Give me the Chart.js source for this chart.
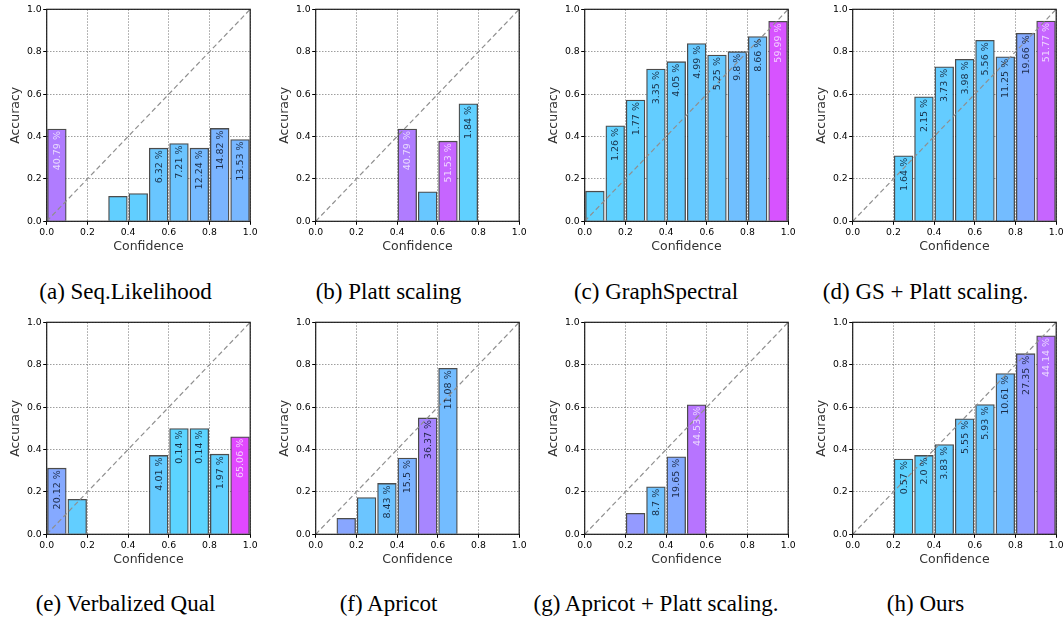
<!DOCTYPE html>
<html><head><meta charset="utf-8">
<script src="https://cdn.jsdelivr.net/npm/chart.js@4"></script>
<style>
body{margin:0;background:#fff;width:1063px;height:620px;position:relative;overflow:hidden}
.p{position:absolute}
.cap{position:absolute;font-family:"Liberation Serif","Times New Roman",serif;font-size:23px;line-height:23px;color:#000;white-space:nowrap;transform:translateX(-50%)}
</style></head><body>
<script>
// bin centers (category axis, hidden) and tick labels of the confidence axis
const binLabels = ['0.05','0.15','0.25','0.35','0.45','0.55','0.65','0.75','0.85','0.95'];
const tickValues = [0.0, 0.2, 0.4, 0.6, 0.8, 1.0];
const captions = ['(a) Seq.Likelihood','(b) Platt scaling','(c) GraphSpectral','(d) GS + Platt scaling.',
                  '(e) Verbalized Qual','(f) Apricot','(g) Apricot + Platt scaling.','(h) Ours'];

// accuracy per bin (null = empty bin)
const accA = [0.435,null,null,0.118,0.131,0.345,0.367,0.345,0.438,0.386];
const accB = [null,null,null,null,0.435,0.139,0.378,0.554,null,null];
const accC = [0.142,0.450,0.572,0.718,0.753,0.838,0.784,0.800,0.871,0.943];
const accD = [null,null,0.309,0.587,0.729,0.764,0.854,0.776,0.887,0.945];
const accE = [0.312,0.165,null,null,null,0.372,0.499,0.499,0.378,0.460];
const accF = [null,0.075,0.173,0.240,0.360,0.549,0.783,null,null,null];
const accG = [null,null,0.099,0.224,0.366,0.611,null,null,null,null];
const accH = [null,null,0.355,0.372,0.423,0.545,0.612,0.758,0.852,0.936];

// share of samples per bin, in percent
const pctA = [40.79,null,null,2.5,2.59,6.32,7.21,12.24,14.82,13.53];
const pctB = [null,null,null,null,40.79,5.84,51.53,1.84,null,null];
const pctC = [0.88,1.26,1.77,3.35,4.05,4.99,5.25,9.8,8.66,59.99];
const pctD = [null,null,1.64,2.15,3.73,3.98,5.56,11.25,19.66,51.77];
const pctE = [20.12,3.0,null,null,null,4.01,0.14,0.14,1.97,65.06];
const pctF = [null,21.5,7.12,8.43,15.5,36.37,11.08,null,null,null];
const pctG = [null,null,27.12,8.7,19.65,44.53,null,null,null,null];
const pctH = [null,null,0.57,2.0,3.83,5.55,5.93,10.61,27.35,44.14];

const accs = [accA,accB,accC,accD,accE,accF,accG,accH];
const pcts = [pctA,pctB,pctC,pctD,pctE,pctF,pctG,pctH];

// ---- layout / style ----
const panelX = [0, 269, 537.6, 805.6];
const panelY = [0, 313.4];
const capX = [125.5, 388.5, 656, 925.5];
const capTop = [280, 592];
const W = 262, H = 258;
const PLOT_LEFT = 46.7, PLOT_RIGHT = 250.2, PLOT_TOP = 9.3, PLOT_H = 212;
const BAR_W = (PLOT_RIGHT - PLOT_LEFT) / 10 * 0.92;

function pctColor(p){
  if (p == null) return 'rgba(0,0,0,0)';
  const t = Math.min(p, 65);
  return `rgb(${Math.round(92 + 2.05*t)},${Math.round(212 - 2.15*t)},255)`;
}
function fmtPct(v){ return (Number.isInteger(v) ? v.toFixed(1) : String(v)) + ' %'; }

const framePlugin = {
  id: 'frame',
  afterDraw(chart){
    const {ctx, chartArea:a} = chart;
    ctx.save();
    ctx.strokeStyle = '#1a1a1a';
    ctx.lineWidth = 1.2;
    ctx.strokeRect(a.left, a.top, a.right - a.left, a.bottom - a.top);
    ctx.restore();
  }
};
const labelPlugin = {
  id: 'barLabels',
  afterDatasetsDraw(chart){
    const ds = chart.data.datasets[1];
    const meta = chart.getDatasetMeta(1);
    const ctx = chart.ctx;
    ctx.save();
    ctx.font = '9.5px "DejaVu Sans"';
    ctx.textAlign = 'right';
    ctx.textBaseline = 'middle';
    meta.data.forEach((el, i) => {
      const v = ds.data[i];
      const p = ds.pct[i];
      if (v == null || p == null || v <= 0.2) return;
      ctx.save();
      ctx.translate(el.x, el.y + 2);
      ctx.rotate(-Math.PI/2);
      ctx.fillStyle = p >= 38 ? 'rgba(255,255,255,0.72)' : 'rgba(10,20,40,0.85)';
      ctx.fillText(fmtPct(p), 0, 0.5);
      ctx.restore();
    });
    ctx.restore();
  }
};

Chart.defaults.font.family = '"DejaVu Sans"';
Chart.defaults.color = '#000';

for (let k = 0; k < 8; k++) {
  const col = k % 4, row = Math.floor(k / 4);
  const div = document.createElement('div');
  div.className = 'p';
  div.style.left = panelX[col] + 'px';
  div.style.top = panelY[row] + 'px';
  div.style.width = W + 'px';
  div.style.height = H + 'px';
  const cv = document.createElement('canvas');
  cv.width = W; cv.height = H;
  cv.style.width = W + 'px'; cv.style.height = H + 'px';
  div.appendChild(cv);
  document.body.appendChild(div);

  const cap = document.createElement('div');
  cap.className = 'cap';
  cap.style.left = capX[col] + 'px';
  cap.style.top = capTop[row] + 'px';
  cap.textContent = captions[k];
  document.body.appendChild(cap);

  const gridOpts = {
    offset: false,
    color: 'rgba(0,0,0,0.38)', lineWidth: 1,
    drawTicks: true, tickLength: 3.5, tickColor: '#000', tickWidth: 1, tickBorderDash: []
  };
  new Chart(cv, {
    type: 'bar',
    data: {
      labels: binLabels,
      datasets: [
        { type: 'line', data: [{x:0,y:0},{x:1,y:1}], xAxisID: 'x', yAxisID: 'y',
          borderColor: '#8f8f8f', borderWidth: 1.2, borderDash: [5,3], pointRadius: 0, order: 0 },
        { type: 'bar', data: accs[k], pct: pcts[k], xAxisID: 'xc', yAxisID: 'y',
          backgroundColor: pcts[k].map(pctColor), borderColor: 'rgba(45,45,45,0.85)', borderWidth: 1.3,
          grouped: false, barThickness: BAR_W, order: 1 }
      ]
    },
    options: {
      responsive: false, animation: false, events: [],
      layout: { padding: { left: 0, top: PLOT_TOP, right: W - PLOT_RIGHT, bottom: 0 } },
      plugins: { legend: { display: false }, tooltip: { enabled: false } },
      scales: {
        x: { type: 'linear', position: 'bottom', min: 0, max: 1, offset: false,
             afterBuildTicks: s => { s.ticks = tickValues.map(v => ({value: v})); },
             ticks: { callback: v => Number(v).toFixed(1), font: { size: 9.3 }, padding: 2, maxRotation: 0, autoSkip: false },
             grid: gridOpts, border: { display: false, dash: [1.5,1.5] },
             title: { display: true, text: 'Confidence', font: { size: 12.5 }, color: '#333', padding: { top: 0, bottom: 3.8 } },
             afterFit: s => { s.height = H - PLOT_TOP - PLOT_H; } },
        xc: { type: 'category', display: false, offset: true, grid: { offset: true } },
        y: { min: 0, max: 1,
             afterBuildTicks: s => { s.ticks = tickValues.map(v => ({value: v})); },
             ticks: { callback: v => Number(v).toFixed(1), font: { size: 9.3 }, padding: 1.5 },
             grid: gridOpts, border: { display: false, dash: [1.5,1.5] },
             title: { display: true, text: 'Accuracy', font: { size: 12.5 }, color: '#333', padding: { top: 7.8, bottom: 0 } },
             afterFit: s => { s.width = PLOT_LEFT; } }
      }
    },
    plugins: [labelPlugin, framePlugin]
  });
}
</script>
</body></html>
